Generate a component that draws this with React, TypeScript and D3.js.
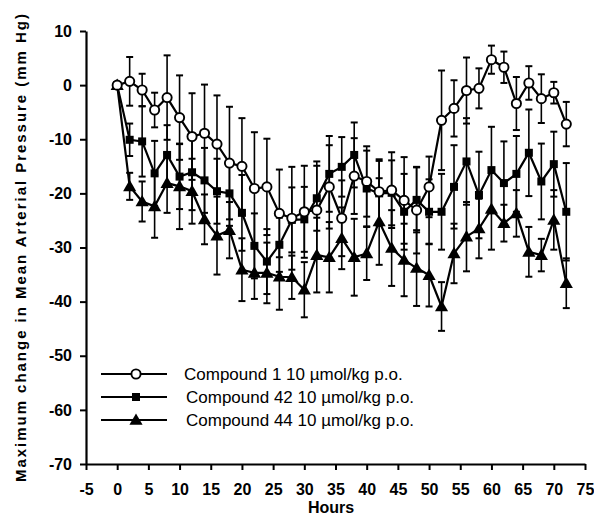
import React, { useRef, useEffect } from 'react';
import * as d3 from 'd3';

const hours = [0, 2, 4, 6, 8, 10, 12, 14, 16, 18, 20, 22, 24, 26, 28, 30, 32, 34, 36, 38, 40, 42, 44, 46, 48, 50, 52, 54, 56, 58, 60, 62, 64, 66, 68, 70, 72];

const compound1 = [0, 0.7, -0.9, -4.6, -2.3, -6.0, -9.5, -8.9, -10.9, -14.4, -15.0, -19.1, -18.8, -23.7, -24.6, -23.4, -23.1, -18.8, -24.6, -16.8, -17.8, -19.7, -19.4, -21.3, -23.1, -18.8, -6.5, -4.3, -1.0, -0.6, 4.7, 3.3, -3.4, 0.4, -2.5, -1.4, -7.2];
const compound1Err = [0, 4.5, 3, 3.2, 7.8, 7.8, 8, 9, 9, 10.4, 8.9, 10.4, 8.9, 8.1, 9.5, 8.5, 9, 7.7, 7, 7, 6.5, 6, 7, 8, 8, 5.6, 9.2, 5.2, 6.1, 3.7, 2.6, 2.9, 4.9, 3.1, 4.5, 2, 4.1];

const compound42 = [0, -10.1, -10.4, -16.3, -12.9, -16.9, -16.1, -17.6, -19.6, -20.0, -23.6, -29.7, -32.6, -29.5, -24.9, -24.8, -20.9, -16.4, -15.1, -12.9, -19.1, -20.0, -19.9, -23.4, -21.2, -23.4, -23.4, -18.8, -14.1, -20.3, -15.7, -18.1, -16.4, -12.5, -17.8, -14.6, -23.4];
const compound42Err = [0, 3, 6.5, 6, 5.5, 6, 7, 6, 6, 6, 7, 6, 6, 5, 6, 6, 6, 7, 5.5, 6, 7, 6, 6, 7, 6, 6, 7, 7.7, 8, 8, 8, 7.7, 7, 8, 7, 6, 9];

const compound44 = [0, -18.7, -21.5, -22.4, -18.1, -18.7, -19.6, -24.8, -27.8, -26.8, -34.1, -34.7, -34.7, -35.4, -35.5, -37.8, -31.4, -31.8, -28.3, -31.8, -31.1, -25.2, -30.1, -32.3, -33.8, -35.1, -40.9, -31.1, -28.0, -26.5, -22.9, -25.5, -23.7, -30.8, -31.4, -24.9, -36.6];
const compound44Err = [0, 2.5, 3.7, 5.8, 5.5, 7.9, 6, 4.6, 7.2, 5.2, 5.8, 4.8, 5.6, 6.1, 4, 5.1, 6.9, 6.5, 5.7, 7.1, 4.9, 8, 7, 6.7, 7, 5.8, 4.5, 5.5, 6.4, 5.5, 7.5, 3.4, 4.3, 4.6, 3, 5.5, 4.6];

const xTicks = [-5, 0, 5, 10, 15, 20, 25, 30, 35, 40, 45, 50, 55, 60, 65, 70, 75];
const yTicks = [10, 0, -10, -20, -30, -40, -50, -60, -70];

const seriesNames = ['Compound 1 10 \u00b5mol/kg p.o.', 'Compound 42 10 \u00b5mol/kg p.o.', 'Compound 44 10 \u00b5mol/kg p.o.'];

const App = () => {
    const ref = useRef(null);

    useEffect(() => {
        const svg = d3.select(ref.current);
        svg.selectAll('*').remove();

        const width = 594, height = 521;
        svg.attr('width', width).attr('height', height);

        const x = d3.scaleLinear().domain([-5, 75]).range([86, 585]);
        const y = d3.scaleLinear().domain([-70, 10]).range([464, 31]);

        const font = 'Liberation Sans, Arial, Helvetica, sans-serif';

        const series = [
            { values: compound1, err: compound1Err, marker: 'circle' },
            { values: compound42, err: compound42Err, marker: 'square' },
            { values: compound44, err: compound44Err, marker: 'triangle' },
        ];

        // error bars first so markers sit on top
        series.forEach(s => {
            const g = svg.append('g').attr('stroke', '#000').attr('stroke-width', 1.6);
            hours.forEach((h, i) => {
                if (!s.err[i]) return;
                const cx = x(h);
                const top = y(s.values[i] + s.err[i]);
                const bot = y(s.values[i] - s.err[i]);
                g.append('line').attr('x1', cx).attr('x2', cx).attr('y1', top).attr('y2', bot);
                g.append('line').attr('x1', cx - 3.5).attr('x2', cx + 3.5).attr('y1', top).attr('y2', top).attr('stroke-width', 2);
                g.append('line').attr('x1', cx - 3.5).attr('x2', cx + 3.5).attr('y1', bot).attr('y2', bot).attr('stroke-width', 2);
            });
        });

        const line = d3.line()
            .x((d, i) => x(hours[i]))
            .y(d => y(d));

        series.forEach(s => {
            svg.append('path')
                .datum(s.values)
                .attr('fill', 'none')
                .attr('stroke', '#000')
                .attr('stroke-width', 2.2)
                .attr('d', line);
        });

        const drawMarker = (g, kind, cx, cy) => {
            if (kind === 'circle') {
                g.append('circle').attr('cx', cx).attr('cy', cy).attr('r', 4.6)
                    .attr('fill', '#fff').attr('stroke', '#000').attr('stroke-width', 1.9);
            } else if (kind === 'square') {
                g.append('rect').attr('x', cx - 4).attr('y', cy - 4).attr('width', 8).attr('height', 8)
                    .attr('fill', '#000');
            } else {
                g.append('path')
                    .attr('transform', `translate(${cx},${cy + 1})`)
                    .attr('d', d3.symbol().type(d3.symbolTriangle).size(75)())
                    .attr('fill', '#000');
            }
        };

        // draw triangles, squares, then circles
        [2, 1, 0].forEach(k => {
            const s = series[k];
            const g = svg.append('g');
            hours.forEach((h, i) => drawMarker(g, s.marker, x(h), y(s.values[i])));
        });

        // axes
        const xAxis = svg.append('g')
            .attr('transform', `translate(0, ${y(-70)})`)
            .call(d3.axisBottom(x).tickValues(xTicks).tickSize(6).tickSizeOuter(0).tickPadding(14).tickFormat(d => `${d}`));
        const yAxis = svg.append('g')
            .attr('transform', `translate(${x(-5)}, 0)`)
            .call(d3.axisLeft(y).tickValues(yTicks).tickSize(6).tickSizeOuter(0).tickPadding(8).tickFormat(d => `${d}`));

        [xAxis, yAxis].forEach(a => {
            a.select('.domain').attr('stroke-width', 2.2);
            a.selectAll('.tick line').attr('stroke-width', 2);
            a.selectAll('.tick text')
                .attr('font-family', font)
                .attr('font-size', 16)
                .attr('font-weight', 'bold')
                .attr('fill', '#000');
        });

        svg.append('text')
            .attr('x', 331)
            .attr('y', 513)
            .attr('text-anchor', 'middle')
            .attr('font-family', font)
            .attr('font-size', 16)
            .attr('font-weight', 'bold')
            .text('Hours');

        svg.append('text')
            .attr('transform', 'translate(26, 248) rotate(-90)')
            .attr('text-anchor', 'middle')
            .attr('font-family', font)
            .attr('font-size', 15)
            .attr('font-weight', 'bold')
            .attr('textLength', 468)
            .attr('lengthAdjust', 'spacing')
            .text('Maximum change in Mean Arterial Pressure (mm Hg)');

        // legend
        const legendRows = [374, 397, 420];
        const legendTextX = [184, 186, 186];
        series.forEach((s, k) => {
            const ly = legendRows[k];
            const g = svg.append('g');
            g.append('line').attr('x1', 101).attr('x2', 167).attr('y1', ly).attr('y2', ly)
                .attr('stroke', '#000').attr('stroke-width', 2.2);
            drawMarker(g, s.marker, 136, ly);
            g.append('text')
                .attr('x', legendTextX[k])
                .attr('y', ly + 6)
                .attr('font-family', font)
                .attr('font-size', 17)
                .attr('fill', '#000')
                .text(seriesNames[k]);
        });
    }, []);

    return (
        <div style={{ position: 'absolute', left: 0, top: 0 }}>
            <svg ref={ref} style={{ display: 'block', background: '#fff' }} />
        </div>
    );
};

export default App;
